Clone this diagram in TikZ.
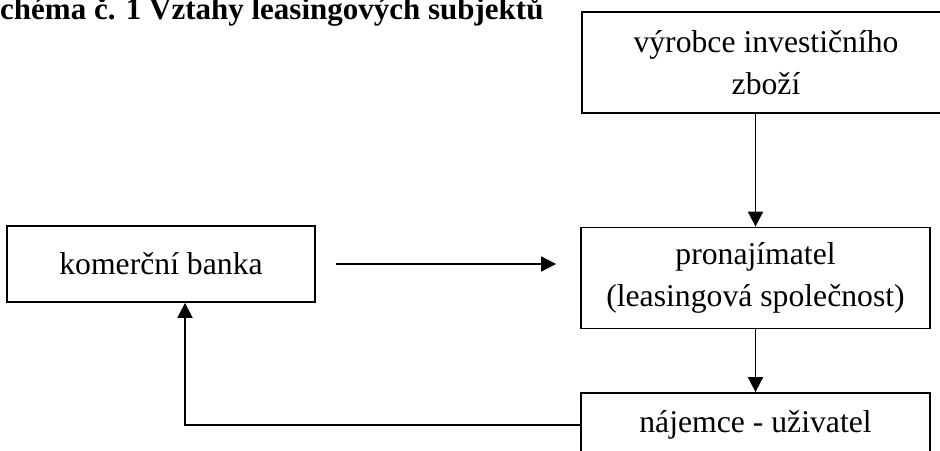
\documentclass[tikz,border=0pt]{standalone}
\usepackage{fontspec}
\setmainfont{Liberation Serif}
\usetikzlibrary{arrows.meta}

\begin{document}
\begin{tikzpicture}[x=1pt,y=-1pt]
        \tikzset{box/.style = {shape=rectangle,draw,line width=1.8pt,align=center,inner sep=0pt,
                font=\fontsize{31.7}{42}\selectfont}}
        \tikzset{edge/.style = {-{Triangle[length=15pt,width=15pt]},line width=1.8pt}}
        \useasboundingbox (0,0) rectangle (940,450);
        % title
        \node[anchor=base west,inner sep=0pt,font=\bfseries\fontsize{31}{36}\selectfont] (title) at (0,19)
                {\llap{S}chéma č. 1 Vztahy leasingových subjektů};
        % boxes
        \node[box,minimum width=368pt,minimum height=101pt] (vyrobce) at (766,62.5) {výrobce investičního\\zboží};
        \node[box,minimum width=308pt,minimum height=76pt] (banka) at (161,264) {komerční banka};
        \node[box,minimum width=349pt,minimum height=101pt] (pronaj) at (755.5,278) {pronajímatel\\(leasingová společnost)};
        \node[box,minimum width=349pt,minimum height=64pt] (najemce) at (755.5,425) {nájemce - uživatel};
        % edges
        \draw[edge] (vyrobce.south -| pronaj.north) to (pronaj.north);
        \draw[edge, shorten <=20pt, shorten >=24pt] (banka.east) to (banka.east -| pronaj.west);
        \draw[edge] (pronaj) to (najemce);
        \draw[edge] (najemce.west) -| ([xshift=24pt]banka.south);
\end{tikzpicture}
\end{document}
